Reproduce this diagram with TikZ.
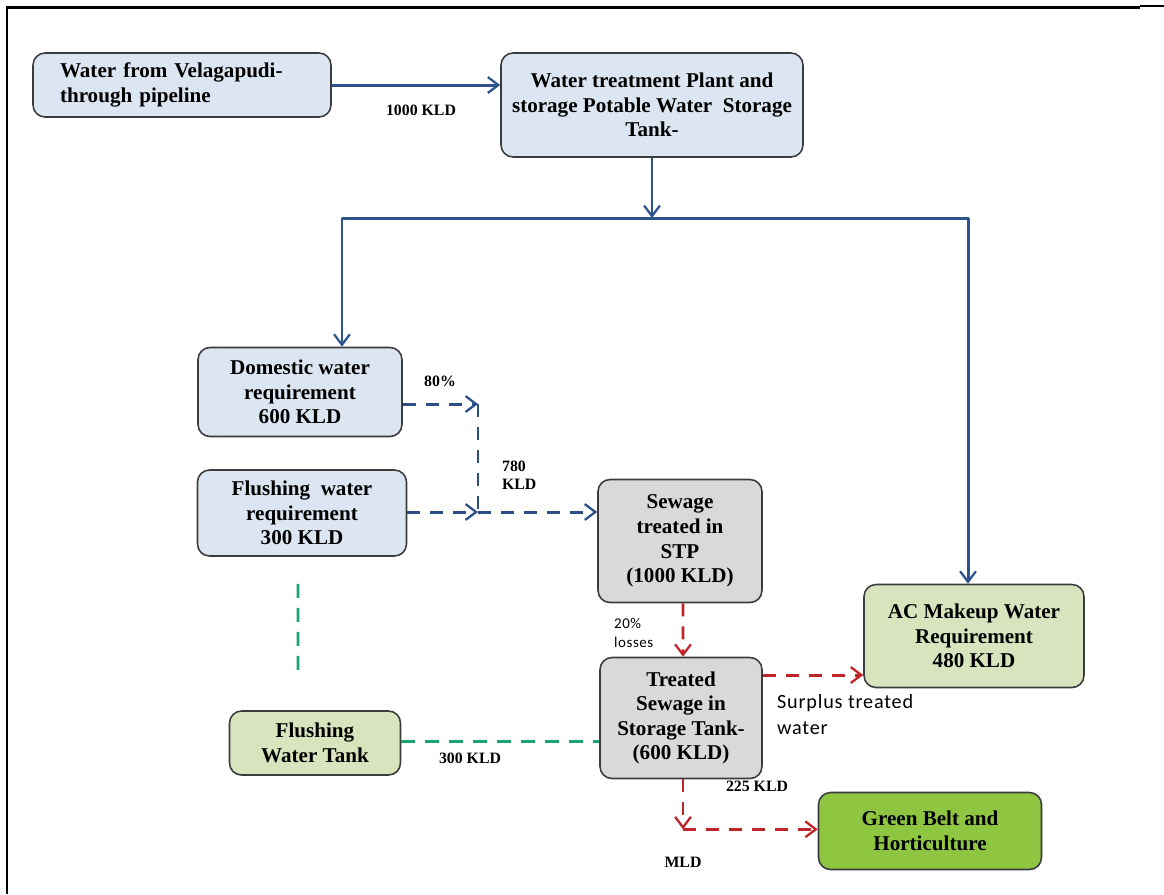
\documentclass[tikz,border=0pt]{standalone}
\usepackage{fontspec}
\setmainfont{Liberation Serif}
\newfontfamily\notefont[LetterSpace=4]{Carlito}
\usepackage{tikz}
\usetikzlibrary{positioning,shapes,arrows.meta,calc}

\definecolor{pipeblue}{RGB}{46,84,142}
\definecolor{sewblue}{RGB}{44,80,134}
\definecolor{recred}{RGB}{192,36,40}
\definecolor{tankgreen}{RGB}{26,164,110}
\definecolor{boxline}{RGB}{60,60,60}
\definecolor{paleblue}{RGB}{220,230,242}
\definecolor{palegrey}{RGB}{217,217,217}
\definecolor{palegreen}{RGB}{215,228,189}
\definecolor{leafgreen}{RGB}{142,198,66}

\begin{document}
\begin{tikzpicture}[x=0.02cm,y=-0.02cm,
    >={Straight Barb[length=6pt,width=9pt,line width=1.3pt]},
    box/.style={%
      rectangle, rounded corners=0.24cm, draw=boxline, line width=0.9pt,
      font=\fontsize{12}{14}\selectfont\bfseries, align=center, inner sep=2pt
    },
    bluebox/.style={box, fill=paleblue},
    greybox/.style={box, fill=palegrey},
    greenbox/.style={box, fill=palegreen},
    leafbox/.style={box, fill=leafgreen},
    flow/.style={draw=pipeblue, line width=1.7pt, line join=round},
    sewer/.style={draw=sewblue, line width=1.7pt, dash pattern=on 0.26cm off 0.2cm},
    recyc/.style={draw=recred, line width=1.7pt, dash pattern=on 0.26cm off 0.2cm},
    tank/.style={draw=tankgreen, line width=1.7pt, dash pattern=on 0.28cm off 0.2cm},
    qty/.style={font=\fontsize{9}{10.5}\selectfont\bfseries, inner sep=1pt, align=left},
    note/.style={font=\notefont\fontsize{11.5}{15}\selectfont, inner sep=1pt, align=left}
]
    \useasboundingbox (0,0) rectangle (1164,894);

    % frame
    \draw[line width=1.7pt] (7,894) -- (7,7) -- (1140,7);
    \draw[line width=0.8pt] (1140,6) -- (1164,6);

    % boxes
    \node[bluebox, minimum height=1.28cm, text width=4.88cm, inner xsep=0.54cm, align=left] (src) at (182,85)
        {Water from Velagapudi-\\through pipeline};
    \node[bluebox, minimum width=6.04cm, minimum height=2.08cm] (wtp) at (652,105)
        {Water treatment Plant and\\storage Potable Water~ Storage\\Tank-};
    \node[bluebox, minimum width=4.08cm, minimum height=1.78cm] (dom) at (300,392)
        {Domestic water\\requirement\\600 KLD};
    \node[bluebox, minimum width=4.18cm, minimum height=1.72cm] (flreq) at (302,513)
        {Flushing~ water\\requirement\\300 KLD};
    \node[greybox, minimum width=3.28cm, minimum height=2.46cm] (stp) at (680,541)
        {Sewage\\treated in\\STP\\(1000 KLD)};
    \node[greybox, minimum width=3.24cm, minimum height=2.42cm] (tst) at (681,718)
        {Treated\\Sewage in\\Storage Tank-\\(600 KLD)};
    \node[greenbox, minimum width=4.40cm, minimum height=2.06cm] (ac) at (974,636)
        {AC Makeup Water\\Requirement\\480 KLD};
    \node[greenbox, minimum width=3.42cm, minimum height=1.28cm] (ftank) at (315,743)
        {Flushing\\Water Tank};
    \node[leafbox, minimum width=4.46cm, minimum height=1.54cm] (gbelt) at (930,831)
        {Green Belt and\\Horticulture};

    % potable water
    \draw[flow,->] (src.east) -- (src.east -| wtp.west);
    \coordinate (split) at (652,218);
    \draw[flow,->] (wtp.south) -- (split);
    \draw[flow,->] (split) -| ([xshift=0.84cm]dom.north);
    \draw[flow,->] (split) -| ([xshift=-0.12cm]ac.north);

    % waste water to STP
    \coordinate (bend) at (478,404);
    \coordinate (merge) at (478,512);
    \draw[sewer,->] (dom.east |- bend) -- (bend);
    \draw[sewer] (bend) -- (merge);
    \draw[sewer,->] (flreq.east |- merge) -- (merge);
    \draw[sewer,->] (merge) -- (stp.west |- merge);

    % treated sewage
    \draw[recyc,->] ([xshift=0.06cm]stp.south) -- ([xshift=0.04cm]tst.north);
    \path ([yshift=0.86cm]tst.east) coordinate (sp);
    \draw[recyc,->] (sp) -- (sp -| ac.west);
    \draw[recyc,->] ([xshift=0.04cm]tst.south) -- ++(0,50) coordinate (low);
    \draw[recyc,->] (low) -- (low -| gbelt.west);

    % flushing tank
    \draw[tank] (ftank.east |- 0,741) -- (tst.west |- 0,741);
    \draw[tank] ([xshift=-0.08cm,yshift=-0.54cm]flreq.south) -- ([xshift=-0.34cm,yshift=0.66cm]ftank.north);

    % labels
    \node[qty] (l1000) at (421,110) {1000 KLD};
    \node[qty] (l80) at (440,381) {80\%};
    \node[qty, anchor=west] (l780) at (500,475) {780\\KLD};
    \node[note, font=\notefont\fontsize{8.5}{11}\selectfont, anchor=west] (l20) at (612,633) {20\%\\losses};
    \node[note, anchor=north west] (lsur) at (775,692) {Surplus treated\\water};
    \node[qty] (l300) at (470,758) {300 KLD};
    \node[qty] (l225) at (757,786) {225 KLD};
    \node[qty] (lmld) at (683,862) {MLD};
\end{tikzpicture}
\end{document}
